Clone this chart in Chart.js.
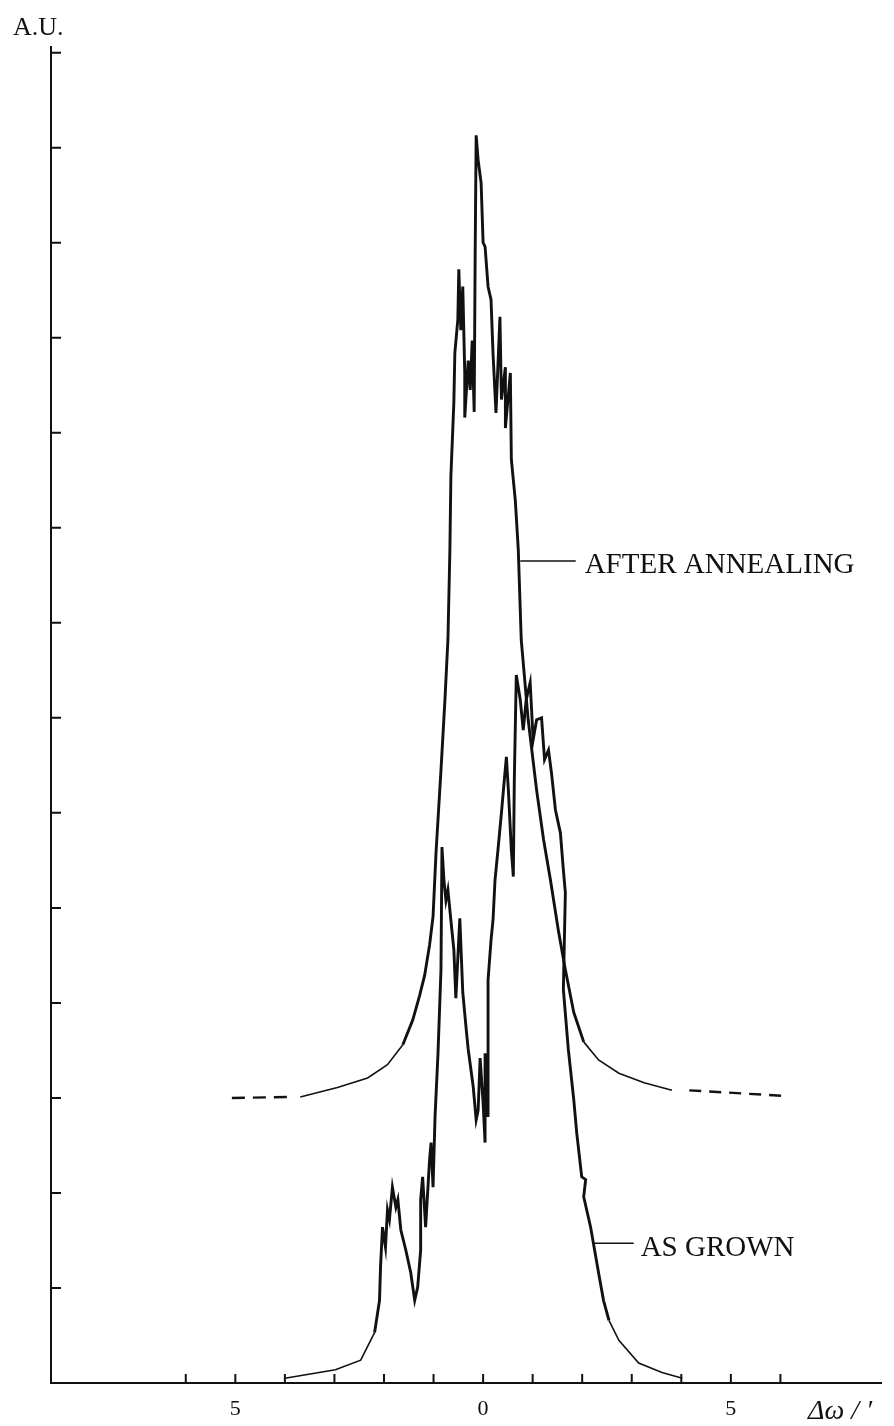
<!DOCTYPE html>
<html>
<head>
<meta charset="utf-8">
<script src="https://cdn.jsdelivr.net/npm/chart.js@4.4.1/dist/chart.umd.min.js"></script>
<style>
  html, body { margin: 0; padding: 0; background: #ffffff; }
  #wrap { width: 894px; height: 1426px; }
</style>
</head>
<body>
<div id="wrap"><canvas id="rocking-curve" width="894" height="1426"></canvas></div>
<script>
// Rocking curves (x in arc min, y in A.U.)

const annealX = [-3.69, -2.94, -2.33, -1.93, -1.62, -1.42, -1.28, -1.18, -1.08, -1.01, -0.95, -0.91,
    -0.85, -0.77, -0.71, -0.67, -0.65, -0.59, -0.57, -0.51, -0.49, -0.45, -0.41, -0.37, -0.37,
    -0.30, -0.26, -0.22, -0.18, -0.16, -0.14, -0.10, -0.04, 0.00, 0.04, 0.10, 0.16, 0.20, 0.26,
    0.34, 0.37, 0.45, 0.45, 0.55, 0.57, 0.65, 0.71, 0.77, 0.91, 1.08, 1.22, 1.36, 1.52, 1.66,
    1.83, 2.03, 2.33, 2.74, 3.25, 3.81];
const annealY = [3.01, 3.11, 3.21, 3.35, 3.56, 3.82, 4.08, 4.29, 4.61, 4.91, 5.58, 5.93,
    6.45, 7.19, 7.82, 8.77, 9.54, 10.32, 10.84, 11.19, 11.72, 11.08, 11.54, 10.63, 10.16,
    10.76, 10.45, 10.97, 10.22, 11.88, 13.13, 12.87, 12.63, 12.00, 11.96, 11.54, 11.40, 10.84, 10.21,
    11.22, 10.35, 10.69, 10.05, 10.63, 9.72, 9.29, 8.77, 7.82, 6.98, 6.24, 5.72, 5.29, 4.76, 4.35,
    3.90, 3.59, 3.40, 3.26, 3.16, 3.08];

// dashed ends of the annealed curve
const annealTailLeftX = [-5.07, -3.91];
const annealTailLeftY = [3.00, 3.01];
const annealTailRightX = [4.16, 6.13];
const annealTailRightY = [3.08, 3.02];

const grownX = [-4.00, -2.98, -2.47, -2.19, -2.09, -2.07, -2.03, -1.97, -1.93, -1.89, -1.83, -1.76,
    -1.72, -1.66, -1.56, -1.46, -1.38, -1.32, -1.26, -1.26, -1.22, -1.16, -1.08, -1.05, -1.01,
    -0.97, -0.91, -0.85, -0.83, -0.79, -0.75, -0.71, -0.65, -0.59, -0.55, -0.47, -0.41, -0.34,
    -0.30, -0.20, -0.14, -0.10, -0.06, 0.00, 0.04, 0.04, 0.10, 0.10, 0.16, 0.20, 0.24, 0.30,
    0.37, 0.41, 0.47, 0.51, 0.57, 0.61, 0.63, 0.67, 0.75, 0.81, 0.87, 0.95, 1.01, 1.08, 1.18,
    1.24, 1.32, 1.38, 1.46, 1.56, 1.62, 1.66, 1.64, 1.62, 1.72, 1.83, 1.89, 1.99, 2.07, 2.03,
    2.17, 2.33, 2.43, 2.54, 2.74, 3.14, 3.61, 4.02];
const grownY = [0.05, 0.14, 0.24, 0.53, 0.87, 1.22, 1.64, 1.43, 1.82, 1.72, 2.06, 1.85,
    1.93, 1.61, 1.40, 1.16, 0.87, 1.01, 1.40, 1.93, 2.17, 1.64, 2.35, 2.53, 2.06,
    2.80, 3.47, 4.35, 5.64, 5.29, 5.08, 5.19, 4.87, 4.56, 4.05, 4.89, 4.11, 3.72,
    3.51, 3.12, 2.77, 2.87, 3.42, 2.95, 2.53, 3.47, 2.80, 4.24, 4.66, 4.87, 5.29, 5.61,
    6.00, 6.24, 6.59, 6.24, 5.61, 5.33, 6.35, 7.45, 7.19, 6.87, 7.19, 7.37, 6.77, 6.98, 7.00,
    6.56, 6.66, 6.42, 6.03, 5.79, 5.40, 5.16, 4.66, 4.14, 3.51, 2.98, 2.63, 2.17, 2.14, 1.96,
    1.64, 1.16, 0.87, 0.66, 0.45, 0.21, 0.11, 0.05];

const xTickValues = [-6, -5, -4, -3, -2, -1, 0, 1, 2, 3, 4, 5, 6];
const xTickLabels = ['', '5', '', '', '', '', '0', '', '', '', '', '5', ''];
const yTickValues = [1, 2, 3, 4, 5, 6, 7, 8, 9, 10, 11, 12, 13, 14];

const ink = '#111111';
const serif = "'Liberation Serif', 'DejaVu Serif', serif";

function toPoints(xs, ys) {
    return xs.map((x, i) => ({ x: x, y: ys[i] }));
}

// thicker pen where the trace is noisy, thin on the tails
function penWidth(floor) {
    return ctx => (Math.max(ctx.p0.parsed.y, ctx.p1.parsed.y) > floor ? 2.9 : 1.6);
}

// inward ticks, leader lines and the loose texts
const figureExtras = {
    id: 'figureExtras',
    afterDraw(chart) {
        const ctx = chart.ctx;
        const xs = chart.scales.x;
        const ys = chart.scales.y;
        const area = chart.chartArea;
        ctx.save();
        ctx.strokeStyle = ink;
        ctx.lineWidth = 2;
        ctx.beginPath();
        xTickValues.forEach(v => {
            const px = xs.getPixelForValue(v);
            ctx.moveTo(px, area.bottom);
            ctx.lineTo(px, area.bottom - 9);
        });
        yTickValues.forEach(v => {
            const py = ys.getPixelForValue(v);
            ctx.moveTo(area.left, py);
            ctx.lineTo(area.left + 10, py);
        });
        ctx.stroke();

        // leader lines
        ctx.lineWidth = 1.6;
        ctx.beginPath();
        ctx.moveTo(xs.getPixelForValue(0.75), ys.getPixelForValue(8.65));
        ctx.lineTo(xs.getPixelForValue(1.87), ys.getPixelForValue(8.65));
        ctx.moveTo(xs.getPixelForValue(2.23), ys.getPixelForValue(1.47));
        ctx.lineTo(xs.getPixelForValue(3.04), ys.getPixelForValue(1.47));
        ctx.stroke();

        ctx.fillStyle = ink;
        ctx.textBaseline = 'middle';
        ctx.textAlign = 'left';
        ctx.font = '29px ' + serif;
        ctx.fillText('AFTER ANNEALING', xs.getPixelForValue(2.05), ys.getPixelForValue(8.60));
        ctx.fillText('AS GROWN', xs.getPixelForValue(3.18), ys.getPixelForValue(1.42));

        ctx.textBaseline = 'alphabetic';
        ctx.font = '26px ' + serif;
        ctx.fillText('A.U.', 13, 35);
        ctx.font = 'italic 28px ' + serif;
        ctx.fillText('\u0394\u03c9 / \u2032', 808, 1419);
        ctx.restore();
    }
};

const lineStyle = {
    borderColor: ink,
    borderWidth: 2,
    pointRadius: 0,
    tension: 0,
    showLine: true,
    fill: false
};

new Chart(document.getElementById('rocking-curve'), {
    type: 'scatter',
    data: {
        datasets: [
            Object.assign({}, lineStyle, { label: 'After annealing', data: toPoints(annealX, annealY), segment: { borderWidth: penWidth(3.7) } }),
            Object.assign({}, lineStyle, { label: 'After annealing tail', data: toPoints(annealTailLeftX, annealTailLeftY), borderDash: [13, 8], borderWidth: 2.4 }),
            Object.assign({}, lineStyle, { label: 'After annealing tail', data: toPoints(annealTailRightX, annealTailRightY), borderDash: [12, 8], borderWidth: 2.4 }),
            Object.assign({}, lineStyle, { label: 'As grown', data: toPoints(grownX, grownY), segment: { borderWidth: penWidth(0.7) } })
        ]
    },
    options: {
        responsive: false,
        animation: false,
        events: [],
        layout: { padding: { left: 51, right: 13, top: 47, bottom: 0 } },
        plugins: {
            legend: { display: false },
            tooltip: { enabled: false }
        },
        scales: {
            x: {
                type: 'linear',
                min: -8.72,
                max: 8.03,
                afterBuildTicks: scale => { scale.ticks = xTickValues.map(v => ({ value: v })); },
                afterFit: scale => { scale.height = 43; },
                grid: { display: false, drawTicks: false },
                border: { display: true, color: ink, width: 2 },
                ticks: {
                    autoSkip: false,
                    maxRotation: 0,
                    padding: 13,
                    color: ink,
                    font: { family: serif, size: 22 },
                    callback: value => xTickLabels[xTickValues.indexOf(value)]
                }
            },
            y: {
                type: 'linear',
                min: 0,
                max: 14.06,
                afterBuildTicks: scale => { scale.ticks = yTickValues.map(v => ({ value: v })); },
                grid: { display: false, drawTicks: false },
                border: { display: true, color: ink, width: 2 },
                ticks: { display: false }
            }
        }
    },
    plugins: [figureExtras]
});
</script>
</body>
</html>
